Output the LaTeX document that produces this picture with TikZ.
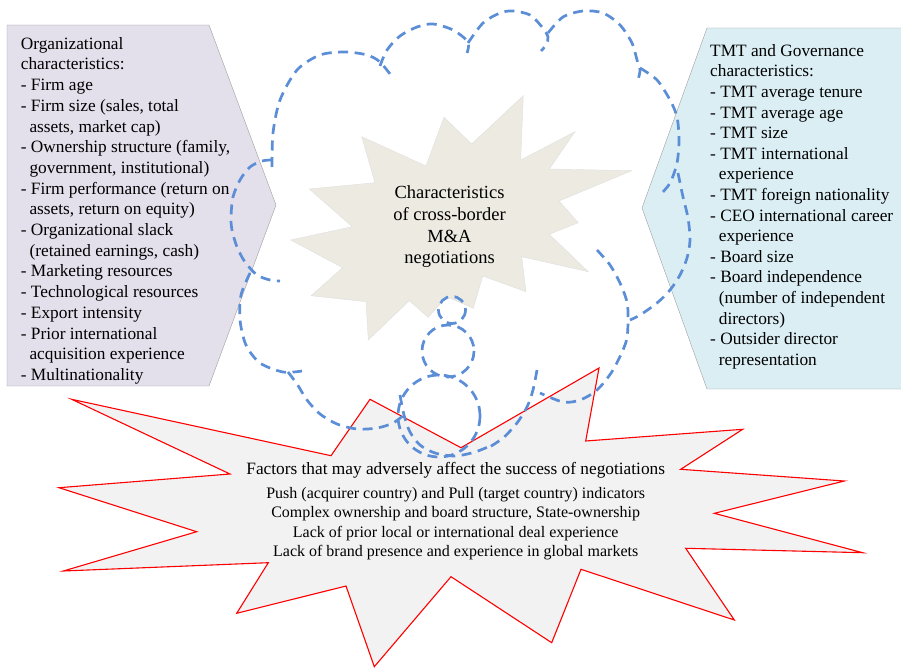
\documentclass[tikz,border=0pt]{standalone}
\usepackage{fontspec}
\setmainfont{Liberation Serif}
\usetikzlibrary{positioning}

\definecolor{lavfill}{HTML}{E3DFEB}
\definecolor{skyfill}{HTML}{DBEEF4}
\definecolor{starfill}{HTML}{ECEAE1}
\definecolor{boomfill}{HTML}{F2F2F2}
\definecolor{cloudblue}{HTML}{5B8ED6}
\newcommand{\ind}{\hspace*{0.5em}}

\begin{document}
\begin{tikzpicture}[x=1pt,y=-1pt,
	boxtext/.style={align=left, inner sep=0pt, font=\fontsize{17.3}{20.7}\selectfont},
	cloudline/.style={cloudblue, line width=2.7pt, dash pattern=on 10pt off 6.5pt}]
	\useasboundingbox (0,0) rectangle (901,668);

	% Paneles laterales
	\draw[gray!75, fill=lavfill] (7,25) -- (209,25) -- (276,205) -- (209,386) -- (7,386) -- cycle;
	\draw[gray!75, fill=skyfill] (910,28) -- (707,28) -- (642,208) -- (707,389) -- (910,389) -- cycle;

	% Estrella central
	\draw[gray!25, fill=starfill] (523.3,95.7) -- (520.7,160) -- (575,131.7) -- (549.3,169)
		-- (631.7,170.7) -- (559,201) -- (578.3,222.7) -- (549.3,234.3) -- (588.3,271.7)
		-- (521.7,256.7) -- (526,291.7) -- (482.7,276) -- (473.3,308.3) -- (446.7,296.7)
		-- (428.3,317.3) -- (409.3,300.7) -- (368.3,340) -- (366,301.7) -- (311,295.7)
		-- (342.7,267.7) -- (290.7,240) -- (352.3,226.7) -- (309.3,189) -- (375,182.7)
		-- (361.7,136.7) -- (426,166) -- (444,117.3) -- (471.7,144) -- cycle;

	% Estrella inferior
	\draw[red, line width=1.1pt, fill=boomfill] (71.7,399.3) -- (331,455.7) -- (370,399.3)
		-- (461,447.7) -- (599,368) -- (585.7,441) -- (742.7,429.3) -- (680.7,469.3)
		-- (844.3,481) -- (714.3,513.3) -- (862.7,552.7) -- (685.7,548.3) -- (734.3,620)
		-- (581,569.3) -- (551.7,642.7) -- (451,576.7) -- (374.3,666.7) -- (346,586)
		-- (236.7,613.3) -- (268.3,562.7) -- (63.3,571) -- (196.7,531.7) -- (59,487.7)
		-- (230,474) -- cycle;

	% Nube
	\draw[cloudline] plot[smooth] coordinates {(272,167) (273,133) (280,100) (297,70) (320,55) (345,52) (367,55) (380,62) (393,78)};
	\draw[cloudline] plot[smooth] coordinates {(380,66) (387,50) (400,36) (417,27) (433,24) (453,30) (468,42) (467,53)};
	\draw[cloudline] plot[smooth] coordinates {(468,43) (483,23) (500,13) (513,11) (530,15) (542,27) (548,37) (546,45) (541,51)};
	\draw[cloudline] plot[smooth] coordinates {(548,33) (563,17) (583,11) (603,13) (620,25) (632,43) (637,60) (640,70) (638,80)};
	\draw[cloudline] plot[smooth] coordinates {(640,68) (657,80) (670,100) (677,117) (679,140) (677,163) (670,183) (660,195)};
	\draw[cloudline] plot[smooth] coordinates {(678,173) (683,197) (688,218) (690,240) (687,258) (680,275) (670,290) (657,303) (640,315) (630,320)};
	\draw[cloudline] plot[smooth] coordinates {(597,250) (610,265) (620,283) (627,302) (628,320) (626,342) (613,370) (597,390) (580,400) (563,402) (540,393)};
	\draw[cloudline] plot[smooth] coordinates {(537,370) (533,390) (527,407) (517,423) (503,438) (488,448)};
	\draw[cloudline] plot[smooth] coordinates {(400,395) (404,415) (410,432) (420,445) (435,453) (455,456) (475,452) (490,446)};
	\draw[cloudline] plot[smooth] coordinates {(288,372) (297,384) (307,400) (320,414) (337,424) (357,429) (377,428) (393,423) (405,414)};
	\draw[cloudline] plot[smooth] coordinates {(250,273) (241,295) (240,320) (246,345) (260,363) (283,372) (302,371)};
	\draw[cloudline] plot[smooth] coordinates {(272,160) (262,161) (250,167) (240,180) (233,197) (231,217) (232,230) (237,247) (245,262) (257,275) (270,280) (280,281)};
	\foreach \cx/\cy/\r in {452/310/13.5, 448/351/26, 439/416/41}
		\draw[cloudline] (\cx,\cy) circle[radius=\r];

	% Textos
	\node[boxtext, anchor=north west] (orgtext) at (20.7,37) {Organizational\\characteristics:\\- Firm age\\- Firm size (sales, total\\\ind assets, market cap)\\- Ownership structure (family,\\\ind government, institutional)\\- Firm performance (return on\\\ind assets, return on equity)\\- Organizational slack\\\ind (retained earnings, cash)\\- Marketing resources\\- Technological resources\\- Export intensity\\- Prior international\\\ind acquisition experience\\- Multinationality};
	\node[boxtext, font=\fontsize{17.3}{20.6}\selectfont, anchor=north west] (tmttext) at (710,44) {TMT and Governance\\characteristics:\\- TMT average tenure\\- TMT average age\\- TMT size\\- TMT international\\\ind experience\\- TMT foreign nationality\\- CEO international career\\\ind experience\\- Board size\\- Board independence\\\ind (number of independent\\\ind directors)\\- Outsider director\\\ind representation};
	\node[align=center, inner sep=0pt, font=\fontsize{18.5}{21.7}\selectfont, anchor=north] (matext) at (449.5,185.7) {Characteristics\\of cross-border\\M\&A\\negotiations};
	\node[inner sep=0pt, font=\fontsize{17.3}{20.7}\selectfont, anchor=north] (factors) at (455.7,461.8) {Factors that may adversely affect the success of negotiations};
	\node[align=center, inner sep=0pt, font=\fontsize{16}{19.2}\selectfont, below=9.2pt of factors] (factorlist) {Push (acquirer country) and Pull (target country) indicators\\Complex ownership and board structure, State-ownership\\Lack of prior local or international deal experience\\Lack of brand presence and experience in global markets};
\end{tikzpicture}
\end{document}
